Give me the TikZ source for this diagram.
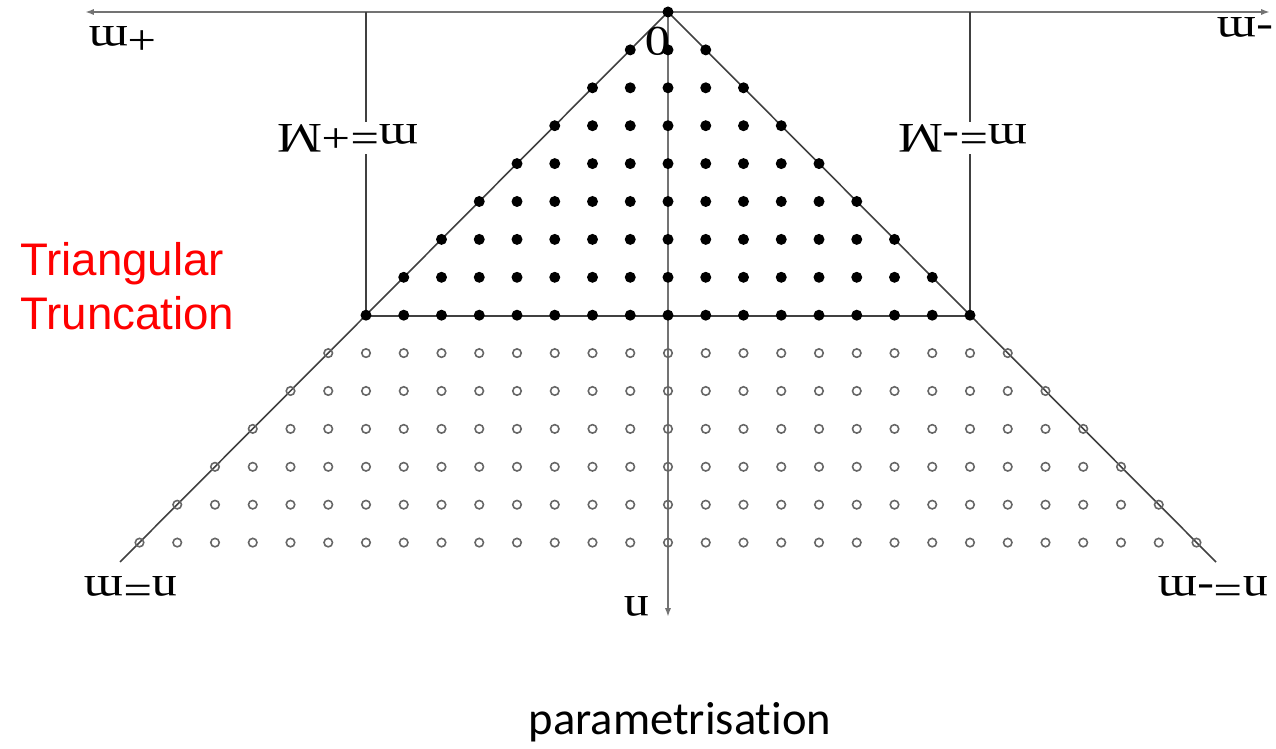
\documentclass[tikz,border=0pt]{standalone}
\usepackage{fontspec}
\setmainfont{Liberation Serif}
\newfontfamily\redfont{Liberation Sans}
\newfontfamily\capfont[RawFeature={-liga;-clig;-dlig;-calt}]{Carlito}
\usetikzlibrary{arrows.meta}

\begin{document}
\begin{tikzpicture}[
    x=0.02cm, y=-0.02cm,
    >={Latex[length=5pt, width=3.5pt]},
    line/.style={line width=0.9pt, color=black!75},
    axis/.style={line width=1.1pt, color=black!55},
    fdot/.style={circle, fill=black, inner sep=0pt, minimum size=0.22cm},
    odot/.style={circle, draw=black!60, line width=0.9pt, inner sep=0pt, minimum size=0.17cm},
    lbl/.style={rotate=180, xscale=1.2, inner sep=1pt, font=\fontsize{24}{26}\selectfont}
]
    \useasboundingbox (0,0) rectangle (1276,749);

    % frame of the triangle
    \coordinate (apex) at (668,12);
    \coordinate (mleft) at (85,12);
    \coordinate (mright) at (1270,12);
    \coordinate (nend) at (668,617);
    \coordinate (endL) at (120,562);
    \coordinate (endR) at (1216,562);
    \coordinate (cornerL) at (366,316);
    \coordinate (cornerR) at (970,316);
    \coordinate (topL) at (366,12);
    \coordinate (topR) at (970,12);

    \draw[axis, <->] (mleft) -- (mright);
    \draw[axis, ->] (apex) -- (nend);
    \draw[line] (endL) -- (apex) -- (endR);
    \draw[line] (cornerL) -- (cornerR);
    \draw[line] (topL) -- (cornerL);
    \draw[line] (topR) -- (cornerR);

    % kept modes (filled) and dropped modes (open)
    \foreach \k in {0,...,8}
        \foreach \j in {-\k,...,\k}
            \node[fdot] (d-\k-\j) at ({668+37.75*\j},{12+37.9*\k}) {};
    \foreach \k in {9,...,14}
        \foreach \j in {-\k,...,\k}
            \node[odot] (o-\k-\j) at ({668+37.75*\j},{12+37.9*\k}) {};

    % labels, printed upside down
    \node[lbl, fill=white] (mplusM) at (348,138) {m=+M};
    \node[lbl, fill=white] (mminusM) at (963,138) {m=-M};
    \node[lbl] (plusm) at (123,38) {+m};
    \node[lbl] (minusm) at (1245,27) {-m};
    \node[lbl] (nm) at (131,586) {n=m};
    \node[lbl] (nminusm) at (1213,586) {n=-m};
    \node[lbl] (nlab) at (637,606) {n};
    \node[lbl] (zero) at (658,41) {0};

    \node[anchor=base west, align=left, text=red, font=\redfont\fontsize{26}{31.3}\selectfont] (trunc) at (14,330) {Triangular\\Truncation};
    \node[anchor=base, font=\capfont\fontsize{26.5}{30}\selectfont] (param) at (680,735) {parametrisation};
\end{tikzpicture}
\end{document}
